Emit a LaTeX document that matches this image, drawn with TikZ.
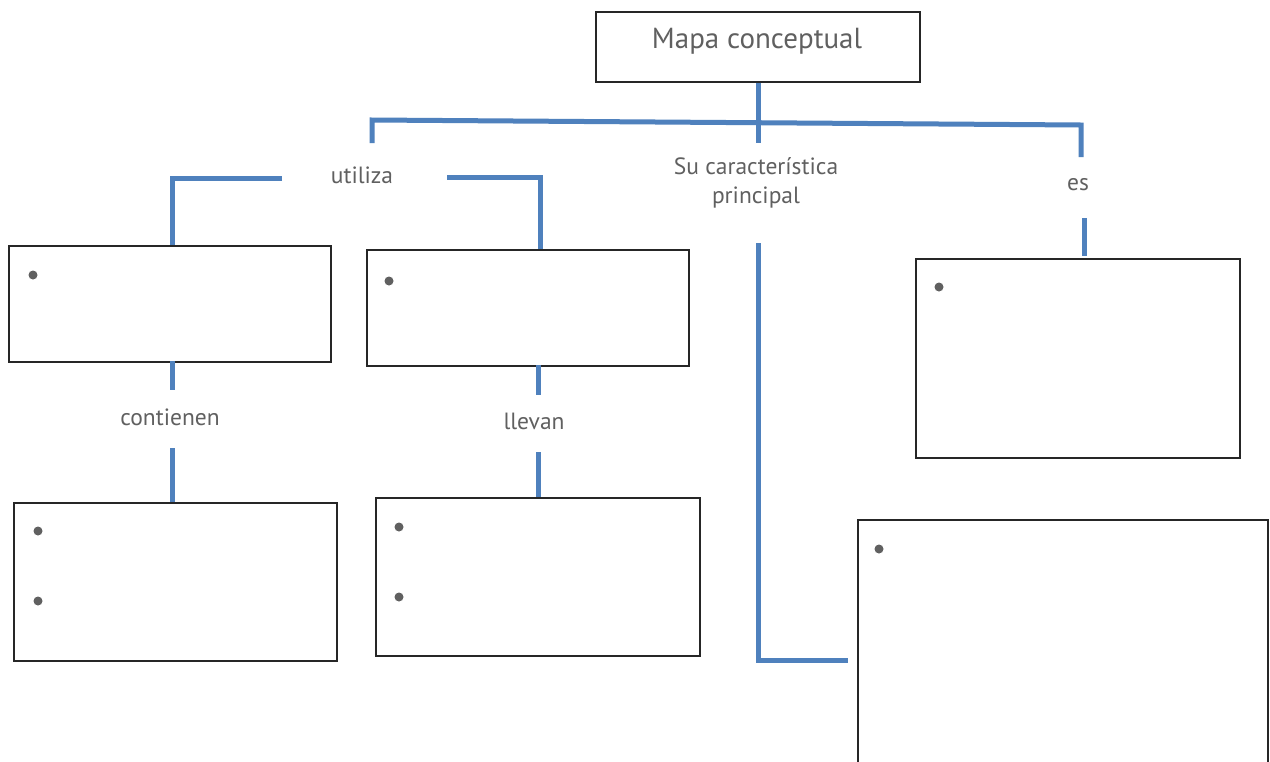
\documentclass[tikz,border=0pt]{standalone}
\usepackage{fontspec}
\setmainfont{PT Sans}
\definecolor{lineblue}{HTML}{4F81BD}
\definecolor{textgray}{HTML}{606060}
\begin{document}
\begin{tikzpicture}[x=1pt,y=-1pt,
  box/.style={draw=black!85, line width=1.6pt, rectangle, anchor=north west, inner sep=0pt},
  conn/.style={line width=5pt, draw=lineblue, line join=miter},
  lbl/.style={text=textgray, font=\fontsize{23.5}{29}\selectfont, align=center, inner sep=0pt},
  dot/.style={circle, fill=textgray, inner sep=0pt, minimum size=9pt}]
\clip (0,0) rectangle (1270,761);
\fill[white] (0,0) rectangle (1270,761);
% boxes
\node[box, minimum width=324pt, minimum height=70pt] (top) at (595,11) {};
\node[text=textgray, font=\fontsize{29}{33}\selectfont, inner sep=0pt] (toptext) at (757,41) {Mapa conceptual};
\node[box, minimum width=322pt, minimum height=116pt] (boxA) at (8,245) {};
\node[box, minimum width=322pt, minimum height=116pt] (boxB) at (366,249) {};
\node[box, minimum width=323pt, minimum height=158pt] (boxC) at (13,502) {};
\node[box, minimum width=324pt, minimum height=158pt] (boxD) at (375,497) {};
\node[box, minimum width=324pt, minimum height=199pt] (boxE) at (915,258) {};
\node[box, minimum width=410pt, minimum height=260pt] (boxF) at (857,519) {};
% bullets
\node[dot] (dA) at (33,275) {};
\node[dot] (dB) at (389,281) {};
\node[dot] (dC1) at (38,531) {};
\node[dot] (dC2) at (38,601) {};
\node[dot] (dD1) at (399,527) {};
\node[dot] (dD2) at (399,597) {};
\node[dot] (dE) at (939,287) {};
\node[dot] (dF) at (879,549) {};
% labels
\node[lbl] (utiliza) at (362,175) {utiliza};
\node[lbl] (carac) at (756,183) {Su característica\\principal};
\node[lbl] (es) at (1078,185) {es};
\node[lbl] (contienen) at (170,417) {contienen};
\node[lbl] (llevan) at (534,421) {llevan};
% connector points
\coordinate (barL) at (372,120);
\coordinate (barR) at (1081,125);
\coordinate (uEnd) at (372,143);
\coordinate (eEnd) at (1081,157);
\coordinate (mEnd) at (758,143);
\coordinate (cStart) at (758,243);
\coordinate (cCorner) at (758,660);
\coordinate (cEnd) at (848,660);
\coordinate (esTop) at (1084,218);
\coordinate (esBot) at (1084,256);
\coordinate (lBarEnd) at (282,178);
\coordinate (lCorner) at (172,178);
\coordinate (lDown) at (172,245);
\coordinate (rBarEnd) at (447,177);
\coordinate (rCorner) at (540,177);
\coordinate (rDown) at (540,249);
\coordinate (a1) at (172,361);
\coordinate (a2) at (172,390);
\coordinate (a3) at (172,448);
\coordinate (a4) at (172,502);
\coordinate (b1) at (538,365);
\coordinate (b2) at (538,395);
\coordinate (b3) at (538,452);
\coordinate (b4) at (538,497);
% connectors
\draw[conn] (top.south -| mEnd) -- (mEnd);
\draw[conn] (uEnd) -- (barL) -- (barR) -- (eEnd);
\draw[conn] (cStart) -- (cCorner) -- (cEnd);
\draw[conn] (esTop) -- (esBot);
\draw[conn] (lBarEnd) -- (lCorner) -- (lDown);
\draw[conn] (rBarEnd) -- (rCorner) -- (rDown);
\draw[conn] (a1) -- (a2);
\draw[conn] (a3) -- (a4);
\draw[conn] (b1) -- (b2);
\draw[conn] (b3) -- (b4);
\end{tikzpicture}
\end{document}
